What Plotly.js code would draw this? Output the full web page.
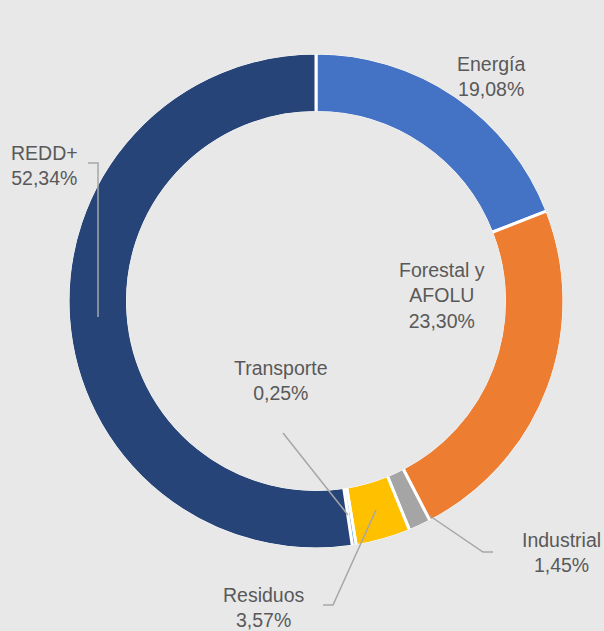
<!DOCTYPE html>
<html>
<head>
<meta charset="utf-8">
<script src="https://cdn.plot.ly/plotly-3.0.1.min.js"></script>
<style>html,body{margin:0;padding:0;background:#e8e8e8;}</style>
</head>
<body>
<div id="chart" style="width:604px;height:631px;"></div>
<script>
const categories = ["Energía", "Forestal y<br>AFOLU", "Industrial", "Residuos", "Transporte", "REDD+"];
const values = [19.08, 23.30, 1.45, 3.57, 0.25, 52.34];
const colors = ["#4472C4", "#ED7D31", "#A5A5A5", "#FFC000", "#5B9BD5", "#264478"];

const W = 604, H = 631;
const BG = "#e8e8e8";
const px = x => x / W;
const py = y => 1 - y / H;
const fmt = v => v.toFixed(2).replace(".", ",") + "%";

// label placement (pixels) in the same order as categories
const labelPos = [[491, 77], [442, 295], [561, 552], [264, 607], [281, 380], [44, 165]];
const leaders = [
  null,
  null,
  [[430, 516], [483, 552], [493, 552]],
  [[376, 510], [333, 605], [323, 605]],
  [[283, 433], [348, 515]],
  [[88, 163], [98, 163], [98, 317]]
];

const annotations = categories.map((c, i) => ({
  text: c + "<br>" + fmt(values[i]),
  x: px(labelPos[i][0]), y: py(labelPos[i][1]),
  xref: "paper", yref: "paper", xanchor: "center", yanchor: "middle",
  showarrow: false, align: "center",
  font: {family: "Liberation Sans, Arial, sans-serif", size: 19.5, color: "#595959"}
}));

const cx = 316, cy = 301, R = 248, HOLE = 0.76;
const ring = r => ({
  type: "circle", xref: "paper", yref: "paper",
  x0: px(cx - r), x1: px(cx + r), y0: py(cy + r), y1: py(cy - r),
  line: {color: BG, width: 3.5}
});

const shapes = [ring(R + 0.5), ring(R * HOLE - 0.5)].concat(leaders.filter(l => l).map(l => ({
  type: "path", xref: "paper", yref: "paper",
  path: l.map((p, k) => (k ? "L" : "M") + px(p[0]) + "," + py(p[1])).join(" "),
  line: {color: "#a6a6a6", width: 1.5}
})));

const trace = {
  type: "pie",
  labels: categories,
  values: values,
  sort: false,
  direction: "clockwise",
  rotation: 0,
  hole: HOLE,
  textinfo: "none",
  hoverinfo: "label+percent",
  marker: {colors: colors, line: {color: "#ffffff", width: 3}},
  domain: {x: [px(cx - R), px(cx + R)], y: [py(cy + R), py(cy - R)]}
};

Plotly.newPlot("chart", [trace], {
  width: W, height: H,
  margin: {l: 0, r: 0, t: 0, b: 0},
  paper_bgcolor: BG,
  plot_bgcolor: BG,
  showlegend: false,
  annotations: annotations,
  shapes: shapes
}, {displayModeBar: false});
</script>
</body>
</html>
